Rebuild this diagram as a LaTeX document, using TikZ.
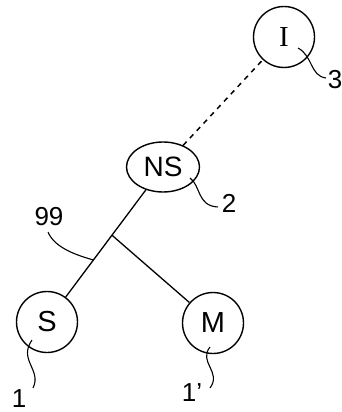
\documentclass[tikz,border=0pt]{standalone}
\usepackage{fontspec}
\setmainfont{Liberation Sans}
\newfontfamily\serifI{Liberation Serif}
\usetikzlibrary{shapes.geometric,calc}
\begin{document}
\begin{tikzpicture}[x=1pt,y=-1pt,
  circ/.style={draw, circle, line width=1.4pt, minimum size=61pt, inner sep=0pt, font=\fontsize{29}{29}\selectfont},
  ell/.style={draw, ellipse, line width=1.4pt, minimum width=73pt, minimum height=50pt, inner sep=0pt, font=\fontsize{28}{28}\selectfont},
  lbl/.style={inner sep=0pt, font=\fontsize{26}{26}\selectfont},
  wire/.style={line width=1.3pt},
  dashwire/.style={line width=1.5pt, dash pattern=on 5pt off 5pt},
  lead/.style={line width=1.1pt}]
\useasboundingbox (0,0) rectangle (342,412);
% nodes
\node[circ] (I) at (284,37) {\serifI I};
\node[ell] (NS) at (163,167) {NS};
\node[circ] (S) at (47,322) {S};
\node[circ] (M) at (213,323) {M};
% labels
\node[lbl] (l3) at (335,80) {3};
\node[lbl] (l2) at (229,203) {2};
\node[lbl] (l99) at (49,217) {99};
\node[lbl] (l1) at (19,399) {1};
\node[lbl] (l1p) at (192,393) {1'};
% connectors
\coordinate (J) at ($(NS.center)!0.44!(S.center)$);
\draw[dashwire] (NS) -- (I);
\draw[wire] (NS) -- (S);
\draw[wire] (J) -- (M);
% leaders
\coordinate (a3) at (298,48);
\coordinate (b3) at (326,78);
\draw[lead] (a3) .. controls (313,56) and (310,76) .. (b3);
\coordinate (a2) at (190,178);
\coordinate (b2) at (218,207);
\draw[lead] (a2) .. controls (201,186) and (197,206) .. (b2);
\coordinate (a99) at (48,232);
\coordinate (b99) at ($(NS.center)!0.6!(S.center)$);
\draw[lead] (a99) .. controls (55,249) and (80,256) .. (b99);
\coordinate (a1) at (32,340);
\coordinate (b1) at (33,388);
\draw[lead] (a1) .. controls (18,360) and (42,370) .. (b1);
\coordinate (a1p) at (210,347);
\coordinate (b1p) at (210,388);
\draw[lead] (a1p) .. controls (198,362) and (222,372) .. (b1p);
\end{tikzpicture}
\end{document}
